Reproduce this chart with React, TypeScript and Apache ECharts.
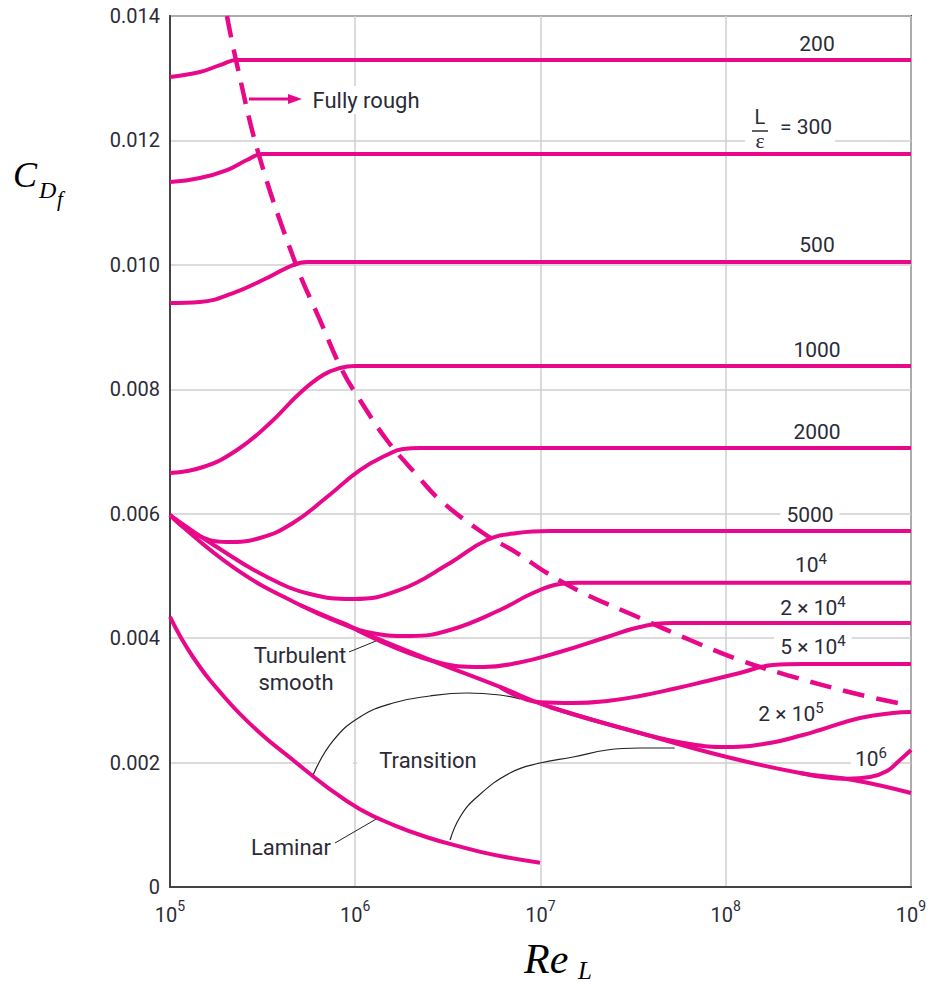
import React, { useEffect, useRef } from "react";
import * as echarts from "echarts";

// ---- data: [Re_L, C_Df] pairs ----
const X_TICKS = [1e5, 1e6, 1e7, 1e8, 1e9];
const Y_TICKS = [0, 0.002, 0.004, 0.006, 0.008, 0.01, 0.012, 0.014];

const LE_200 = [[1e5, 0.01302], [1.45e5, 0.0131], [1.86e5, 0.01321], [2.3e5, 0.013292], [2.7e5, 0.013292], [1e9, 0.013292]];
const LE_300 = [[1e5, 0.011331], [1.45e5, 0.011396], [2.03e5, 0.011524], [2.6e5, 0.011685], [3.14e5, 0.011781], [3.6e5, 0.011781], [1e9, 0.011781]];
const LE_500 = [[1e5, 0.009387], [1.45e5, 0.009403], [2.19e5, 0.009547], [3.34e5, 0.009788], [4.61e5, 0.009997], [5.49e5, 0.010046], [6.5e5, 0.010046], [1e9, 0.010046]];
const LE_1000 = [[1e5, 0.006654], [1.51e5, 0.006751], [2.3e5, 0.007024], [3.47e5, 0.007458], [5.03e5, 0.00794], [6.7e5, 0.008229], [8.28e5, 0.008342], [9.97e5, 0.008374], [1.2e6, 0.008374], [1e9, 0.008374]];
const LE_2000 = [[1e5, 0.005979], [1.33e5, 0.00569], [2.03e5, 0.005545], [3.06e5, 0.00561], [4.61e5, 0.005851], [7.04e5, 0.006268], [1.06e6, 0.006702], [1.48e6, 0.006944], [1.81e6, 0.00704], [2.24e6, 0.007056], [2.8e6, 0.007056], [1e9, 0.007056]];
const LE_5000 = [[1e5, 0.005979], [1.79e5, 0.005465], [3.34e5, 0.004983], [5.7e5, 0.004709], [9.72e5, 0.004629], [1.74e6, 0.004774], [3.25e6, 0.005208], [5.14e6, 0.005577], [7.47e6, 0.00569], [1.125e7, 0.005722], [1.5e7, 0.005722], [1e9, 0.005722]];
const LE_1E4 = [[5.03e5, 0.004533], [8.6e5, 0.00424], [1.15e6, 0.004099], [1.98e6, 0.004034], [3.25e6, 0.004131], [6.04e6, 0.004452], [9.11e6, 0.004725], [1.27e7, 0.00487], [1.6e7, 0.004891], [2.2e7, 0.004891], [1e9, 0.004891]];
const LE_2E4 = [[1.02e6, 0.004131], [2.63e6, 0.003632], [4.9e6, 0.003536], [7.47e6, 0.0036], [1.27e7, 0.003777], [2.29e7, 0.004018], [3.44e7, 0.004179], [5.19e7, 0.004243], [7e7, 0.004243], [1e9, 0.004243]];
const LE_5E4 = [[6.04e6, 0.003215], [9.94e6, 0.00297], [1.5e7, 0.002957], [2.29e7, 0.00299], [3.44e7, 0.00307], [5.19e7, 0.003182], [7.92e7, 0.003311], [1.19e8, 0.00344], [1.8e8, 0.003568], [2.6e8, 0.003584], [1e9, 0.003584]];
const LE_2E5 = [[1.125e7, 0.002893], [3.44e7, 0.002475], [6.41e7, 0.002298], [1.016e8, 0.00225], [1.73e8, 0.002315], [2.61e8, 0.002443], [3.23e8, 0.002524], [5.3e8, 0.002716], [7.99e8, 0.002797], [1e9, 0.002813]];
const LE_1E6 = [[2.52e8, 0.001832], [4.5e8, 0.00174], [6.01e8, 0.001768], [7.42e8, 0.001864], [8.72e8, 0.002041], [1e9, 0.002202]];

const SMOOTH = [[1e5, 0.005979], [2.19e5, 0.005143], [5.03e5, 0.004533], [1.02e6, 0.004131], [2.63e6, 0.003632], [6.04e6, 0.003215], [1.125e7, 0.002893], [3.44e7, 0.002475], [1.016e8, 0.002089], [2.52e8, 0.001832], [4.86e8, 0.00172], [1e9, 0.001511]];
const LAMINAR = [[1e5, 0.00434], [1.33e5, 0.003697], [2.03e5, 0.003006], [3.06e5, 0.002475], [4.61e5, 0.002041], [7.04e5, 0.001607], [1.06e6, 0.00125], [1.6e6, 0.001], [2.44e6, 0.0008], [3.68e6, 0.00065], [5.54e6, 0.00052], [9.94e6, 0.00039]];
const FULLY_ROUGH = [[2.03e5, 0.014], [2.27e5, 0.013292], [3.02e5, 0.011765], [4.73e5, 0.010046], [6.45e5, 0.009113], [8.48e5, 0.00831], [1.06e6, 0.007828], [1.48e6, 0.007185], [2.15e6, 0.006622], [2.87e6, 0.00622], [4.9e6, 0.00569], [7.47e6, 0.005368], [1.084e7, 0.005047], [1.7e7, 0.004725], [3.44e7, 0.004324], [6.41e7, 0.00397], [1.19e8, 0.003649], [2.14e8, 0.003407], [4.86e8, 0.003118], [8.72e8, 0.00295]];
const TRANSITION_1 = [[5.92e5, 0.0018], [7.58e5, 0.002347], [1.06e6, 0.002732], [1.6e6, 0.002957], [2.53e6, 0.00307], [4.01e6, 0.003118], [6.04e6, 0.003086], [7.75e6, 0.003022]];
const TRANSITION_2 = [[3.25e6, 0.000755], [3.68e6, 0.001125], [4.54e6, 0.001447], [6.84e6, 0.001832], [9.94e6, 0.001993], [1.5e7, 0.002089], [2.29e7, 0.002202], [3.44e7, 0.002234], [5.3e7, 0.002234]];

const MAGENTA = "#E8088A";
const TEXT = "#2b2b38";
const FONT = "Roboto, 'Open Sans', sans-serif";
const SERIF = "'Liberation Serif', 'DejaVu Serif', serif";

function solid(name: string, data: number[][]) {
  return {
    name,
    type: "line",
    data,
    showSymbol: false,
    smooth: 0.45,
    lineStyle: { color: MAGENTA, width: 4 },
    z: 3,
  };
}

function thin(name: string, data: number[][]) {
  return {
    name,
    type: "line",
    data,
    showSymbol: false,
    smooth: 0.45,
    lineStyle: { color: "#222", width: 1.2 },
    z: 2,
  };
}

function label(text: string, x: number, y: number, extra: any = {}) {
  return {
    type: "text",
    x,
    y,
    z: 1,
    style: {
      text,
      fill: TEXT,
      font: `21px ${FONT}`,
      align: "center",
      verticalAlign: "middle",
      ...extra,
    },
  };
}

const supRich = {
  n: { fontSize: 21, fontFamily: FONT, color: TEXT, lineHeight: 24, verticalAlign: "bottom" },
  s: { fontSize: 15, fontFamily: FONT, color: TEXT, lineHeight: 24, verticalAlign: "top" },
};

export default function App() {
  const ref = useRef<HTMLDivElement>(null);
  useEffect(() => {
    if (!ref.current) return;
    const chart = echarts.init(ref.current, undefined, { renderer: "svg" });
    const option: any = {
      animation: false,
      backgroundColor: "#fff",
      grid: { left: 170, right: 19, top: 16, bottom: 100, show: true, borderColor: "#444", borderWidth: 2 },
      xAxis: {
        type: "log",
        logBase: 10,
        min: X_TICKS[0],
        max: X_TICKS[X_TICKS.length - 1],
        axisLine: { show: true, onZero: false, lineStyle: { color: "#444", width: 2 } },
        axisTick: { show: false },
        splitLine: { show: true, lineStyle: { color: "#cfcfcf", width: 1.5 } },
        axisLabel: {
          margin: 12,
          formatter: (v: number) => `{b|10}{s|${Math.round(Math.log10(v))}}`,
          rich: {
            b: { fontSize: 20, fontFamily: FONT, color: TEXT, lineHeight: 26, verticalAlign: "bottom" },
            s: { fontSize: 14, fontFamily: FONT, color: TEXT, lineHeight: 26, verticalAlign: "top" },
          },
        },
      },
      yAxis: {
        type: "value",
        min: Y_TICKS[0],
        max: Y_TICKS[Y_TICKS.length - 1],
        interval: 0.002,
        axisLine: { show: true, lineStyle: { color: "#444", width: 2 } },
        axisTick: { show: false },
        splitLine: { show: true, lineStyle: { color: "#cfcfcf", width: 1.5 } },
        axisLabel: {
          margin: 10,
          fontSize: 20,
          fontFamily: FONT,
          color: TEXT,
          formatter: (v: number) => (v === 0 ? "0" : v.toFixed(3)),
        },
      },
      series: [
        solid("200", LE_200),
        solid("300", LE_300),
        solid("500", LE_500),
        solid("1000", LE_1000),
        solid("2000", LE_2000),
        solid("5000", LE_5000),
        solid("1e4", LE_1E4),
        solid("2e4", LE_2E4),
        solid("5e4", LE_5E4),
        solid("2e5", LE_2E5),
        solid("1e6", LE_1E6),
        solid("Turbulent smooth", SMOOTH),
        solid("Laminar", LAMINAR),
        {
          name: "Fully rough",
          type: "line",
          data: FULLY_ROUGH,
          showSymbol: false,
          smooth: 0.4,
          lineStyle: { color: MAGENTA, width: 4.5, type: [22, 12] },
          z: 3,
        },
        thin("Transition 1", TRANSITION_1),
        thin("Transition 2", TRANSITION_2),
      ],
      graphic: [
        // white patches that interrupt gridlines behind labels
        { type: "rect", z: 1, shape: { x: 745, y: 137, width: 90, height: 9 }, style: { fill: "#fff" } },
        { type: "rect", z: 1, shape: { x: 317, y: 759, width: 36, height: 8 }, style: { fill: "#fff" } },
        { type: "rect", z: 1, shape: { x: 357, y: 759, width: 180, height: 8 }, style: { fill: "#fff" } },
        label("200", 817, 44),
        label("500", 817, 245),
        label("1000", 817, 350),
        label("2000", 817, 432),
        label("5000", 810, 515, { backgroundColor: "#fff", padding: [0, 6] }),
        label("{n|10}{s|4}", 811, 563, { rich: supRich }),
        label("{n|2 × 10}{s|4}", 813, 606, { rich: supRich }),
        label("{n|5 × 10}{s|4}", 813, 645, { rich: supRich, backgroundColor: "#fff", padding: [0, 6] }),
        label("{n|2 × 10}{s|5}", 791, 712, { rich: supRich }),
        label("{n|10}{s|6}", 871, 757, { rich: supRich, backgroundColor: "#fff", padding: [0, 4] }),
        // L/eps = 300
        label("L", 760, 117, { font: `20px ${FONT}` }),
        { type: "line", z: 1, shape: { x1: 752, y1: 131, x2: 768, y2: 131 }, style: { stroke: TEXT, lineWidth: 1.5 } },
        label("ε", 760, 140, { font: `22px ${SERIF}` }),
        label("= 300", 806, 127),
        // Fully rough
        label("Fully rough", 366, 100, { font: `22px ${FONT}`, backgroundColor: "#fff", padding: [3, 4] }),
        { type: "line", z: 1, shape: { x1: 249, y1: 99, x2: 292, y2: 99 }, style: { stroke: MAGENTA, lineWidth: 3 } },
        { type: "polygon", z: 1, shape: { points: [[288, 94], [302, 99], [288, 104]] }, style: { fill: MAGENTA } },
        // annotations
        label("Turbulent", 300, 655, { font: `22px ${FONT}` }),
        label("smooth", 296, 682, { font: `22px ${FONT}` }),
        { type: "line", z: 1, shape: { x1: 349, y1: 652, x2: 376, y2: 641 }, style: { stroke: "#222", lineWidth: 1 } },
        label("Laminar", 291, 847, { font: `22px ${FONT}` }),
        { type: "line", z: 1, shape: { x1: 335, y1: 843, x2: 378, y2: 818 }, style: { stroke: "#222", lineWidth: 1 } },
        label("Transition", 428, 760, { font: `22px ${FONT}` }),
        // axis titles
        { type: "text", z: 1, x: 13, y: 175, style: { text: "C", font: `italic 36px ${SERIF}`, fill: "#000", verticalAlign: "middle" } },
        { type: "text", z: 1, x: 39, y: 190, style: { text: "D", font: `italic 24px ${SERIF}`, fill: "#000", verticalAlign: "middle" } },
        { type: "text", z: 1, x: 57, y: 199, style: { text: "f", font: `italic 21px ${SERIF}`, fill: "#000", verticalAlign: "middle" } },
        { type: "text", z: 1, x: 524, y: 959, style: { text: "Re", font: `italic 42px ${SERIF}`, fill: "#000", verticalAlign: "middle" } },
        { type: "text", z: 1, x: 578, y: 970, style: { text: "L", font: `italic 25px ${SERIF}`, fill: "#000", verticalAlign: "middle" } },
      ],
    };
    chart.setOption(option);
    return () => chart.dispose();
  }, []);
  return (
    <div
      ref={ref}
      style={{ position: "fixed", left: 0, top: 0, width: 930, height: 987, background: "#fff" }}
    />
  );
}
